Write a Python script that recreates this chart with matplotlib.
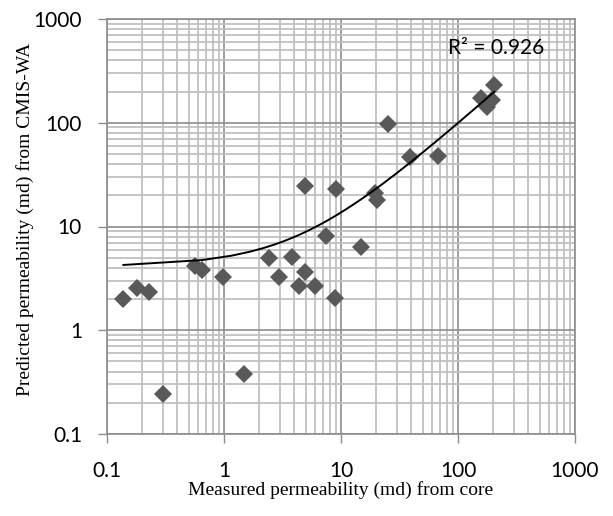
import numpy as np
import matplotlib
matplotlib.use("Agg")
import matplotlib.pyplot as plt
from matplotlib.ticker import LogLocator, FixedLocator, NullFormatter

# Data
measured = [0.138, 0.18, 0.23, 0.565, 0.644, 0.99, 0.30, 1.48, 2.44, 2.97, 3.84,
            4.92, 4.41, 6.0, 8.9, 7.5, 14.8, 204, 157, 194, 176, 25.4, 38.9, 68,
            4.92, 9.06, 19.5, 20.2]
predicted = [2.0, 2.54, 2.35, 4.15, 3.85, 3.25, 0.245, 0.38, 4.97, 3.25, 5.08,
             3.63, 2.69, 2.69, 2.03, 8.1, 6.35, 231, 172, 166, 143, 97, 47, 47.6,
             24.5, 22.8, 20.9, 18]
tick_values = [0.1, 1, 10, 100, 1000]
tick_labels = ["0.1", "1", "10", "100", "1000"]
r2_text = "R² = 0.926"
xlabel = "Measured permeability (md) from core"
ylabel = "Predicted permeability (md) from CMIS-WA"

W, H = 613, 516
fig = plt.figure(figsize=(W/100, H/100), dpi=100)
L, R, T, B = 107, 575, 19, 434
ax = fig.add_axes([L/W, 1-B/H, (R-L)/W, (B-T)/H])

major_c = "#8c8c8c"
minor_c = "#c0c0c0"

ax.set_xscale("log")
ax.set_yscale("log")
ax.set_xlim(0.1, 1000)
ax.set_ylim(0.1, 1000)

ax.xaxis.set_major_locator(FixedLocator(tick_values))
ax.yaxis.set_major_locator(FixedLocator(tick_values))
ax.set_xticklabels(tick_labels)
ax.set_yticklabels(tick_labels)
ax.xaxis.set_minor_locator(LogLocator(base=10, subs=np.arange(2, 10)))
ax.yaxis.set_minor_locator(LogLocator(base=10, subs=np.arange(2, 10)))
ax.xaxis.set_minor_formatter(NullFormatter())
ax.yaxis.set_minor_formatter(NullFormatter())

ax.grid(which="minor", color=minor_c, linewidth=1.3, zorder=0)
ax.grid(which="major", color=major_c, linewidth=1.2, zorder=0.5)
ax.set_axisbelow(True)

ax.tick_params(which="major", direction="out", length=6.5, width=1, color=major_c,
               labelsize=15)
ax.tick_params(axis="x", which="major", pad=13)
ax.tick_params(axis="y", which="major", pad=11.5)
ax.tick_params(which="minor", length=0)
for lab in ax.get_xticklabels() + ax.get_yticklabels():
    lab.set_fontfamily("Lato")

for s in ax.spines.values():
    s.set_color(major_c)
    s.set_linewidth(1.2)

ax.plot(measured, predicted, linestyle="none", marker="D", markersize=9,
        color="#595959", markeredgewidth=0, zorder=3)

# Linear trendline (Excel style) computed from data
coef = np.polyfit(measured, predicted, 1)
xs = np.linspace(min(measured), max(measured), 400)
ax.plot(xs, np.polyval(coef, xs), color="black", linewidth=1.4, zorder=4)

ax.text((448-L)/(R-L), (B-47.5)/(B-T), r2_text, transform=ax.transAxes, fontsize=15,
        family="Lato", ha="left", va="center", zorder=5)

ax.set_xlabel(xlabel, family="Liberation Serif", fontsize=14)
ax.set_ylabel(ylabel, family="Liberation Serif", fontsize=14)
ax.xaxis.set_label_coords(0.5, -(481-B)/(B-T))
ax.yaxis.set_label_coords(-(107-34)/(R-L), (B-219)/(B-T))

fig.savefig("out.png", dpi=100)
